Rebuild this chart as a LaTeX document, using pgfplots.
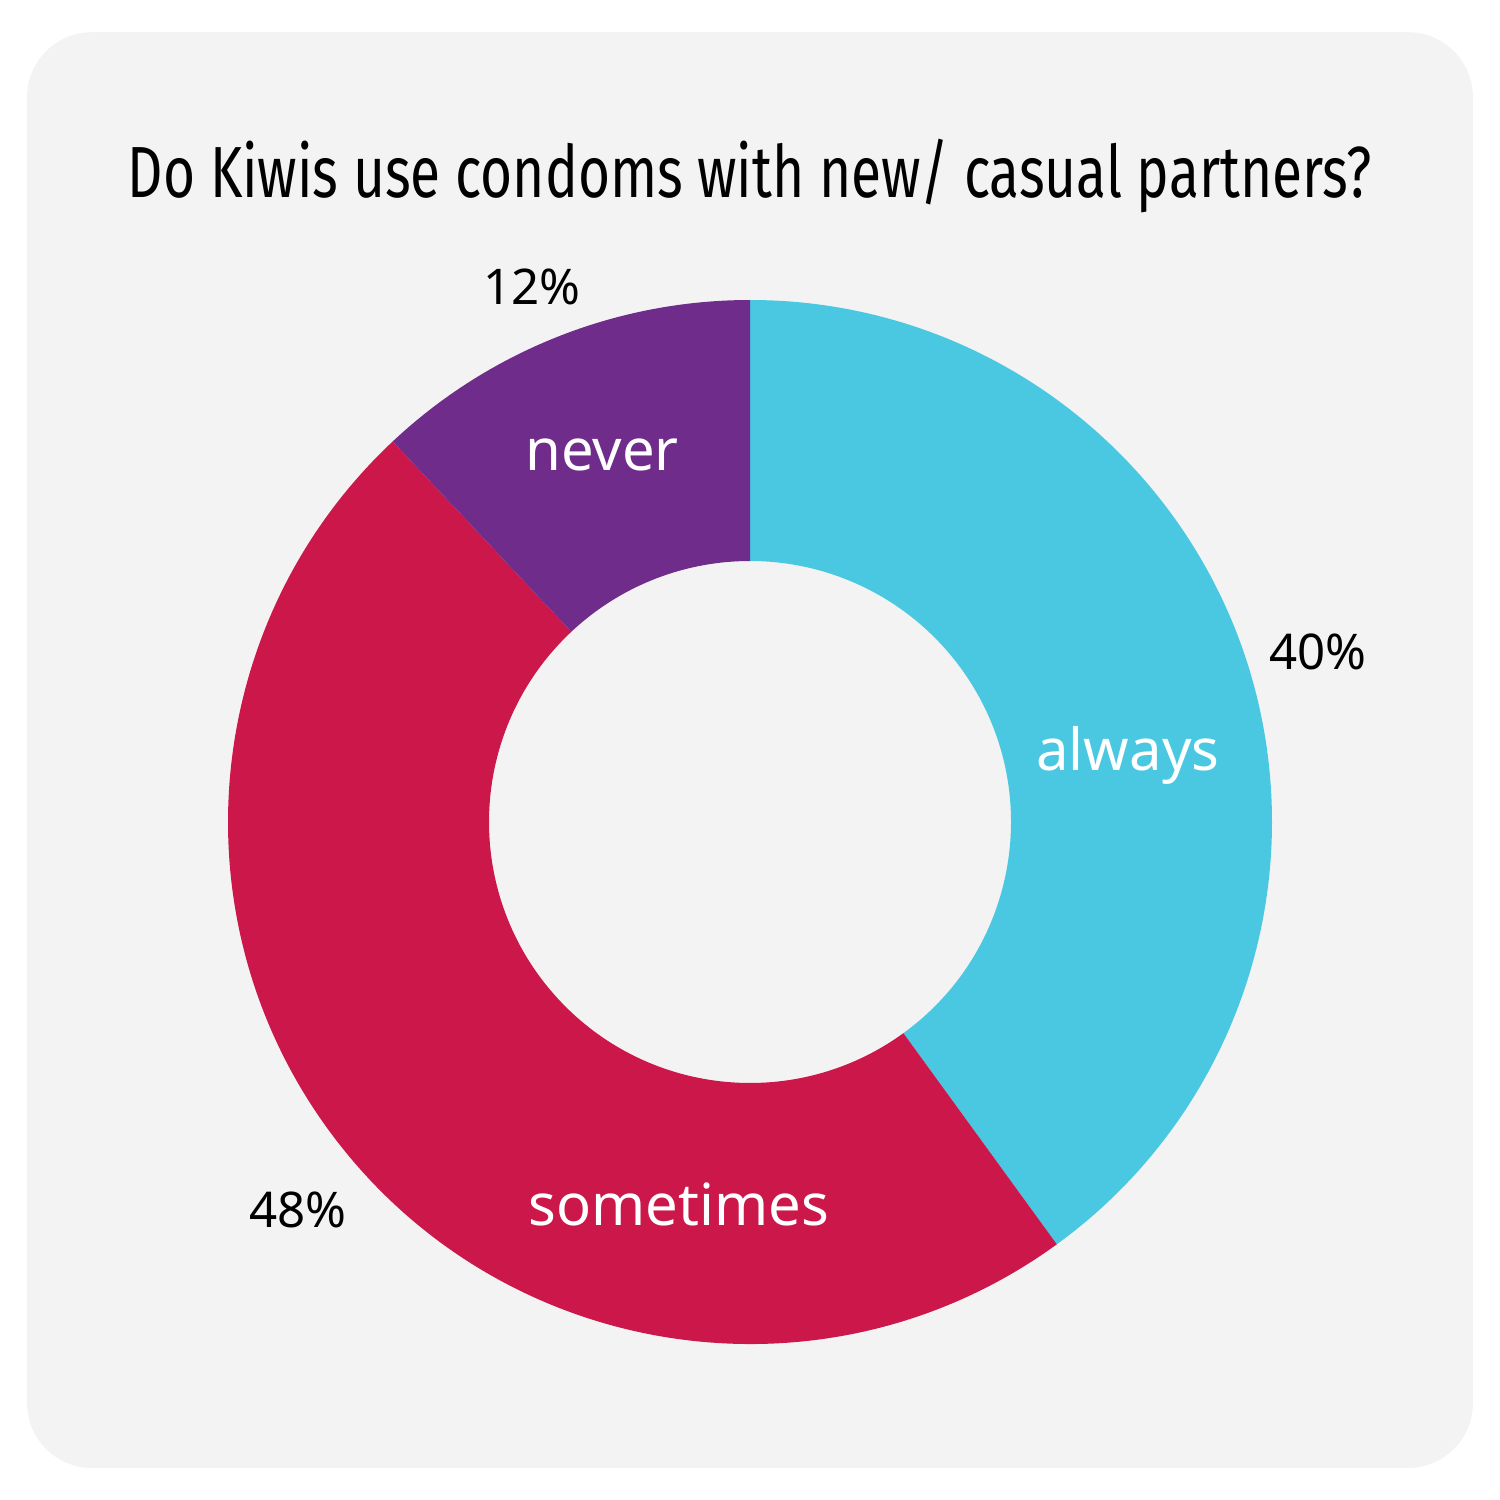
\documentclass[border=0pt]{standalone}
\usepackage{pgfplots}
\pgfplotsset{compat=1.18}
\usepackage{pgfplotstable}
\usepackage{fontspec}
\setmainfont{Noto Sans}
\newfontfamily\titlefont[FakeStretch=0.76]{Fira Sans}
\definecolor{cyanC}{HTML}{4BC8E1}
\definecolor{redC}{HTML}{CC174B}
\definecolor{purpC}{HTML}{6F2C8A}
\definecolor{bgC}{HTML}{F3F3F3}
\pgfplotstableread{
label value
always 40
sometimes 48
never 12
}\donutdata
\begin{document}
\begin{tikzpicture}
\begin{axis}[x=5.22cm,y=5.22cm,
  xmin=-1.43678, xmax=1.43678, ymin=-1.29885, ymax=1.57471,
  hide axis, clip=false, scale only axis]
\fill[white] (rel axis cs:0,0) rectangle (rel axis cs:1,1);
\fill[bgC, rounded corners=0.65cm] (axis cs:-1.385,-1.2375) rectangle (axis cs:1.385,1.513);
\gdef\cum{0}
\pgfplotstableforeachcolumnelement{value}\of\donutdata\as\v{%
  \pgfmathsetmacro\a{90-3.6*\cum}%
  \pgfmathsetmacro\b{90-3.6*(\cum+\v)}%
  \pgfmathsetmacro\ca{cos(\a)}\pgfmathsetmacro\sa{sin(\a)}%
  \pgfmathsetmacro\cb{0.5*cos(\b)}\pgfmathsetmacro\sb{0.5*sin(\b)}%
  \pgfmathsetmacro\newcum{\cum+\v}\xdef\cum{\newcum}%
  \edef\col{\ifcase\pgfplotstablerow cyanC\or redC\or purpC\fi}%
  \edef\tmp{\noexpand\fill[\col] (axis cs:\ca,\sa) arc[start angle=\a, end angle=\b, radius=5.22cm] -- (axis cs:\cb,\sb) arc[start angle=\b, end angle=\a, radius=2.61cm] -- cycle;}%
  \tmp
}
\node[anchor=base, font=\titlefont\fontsize{20.6}{24}\selectfont] at (axis cs:0,1.197) {Do Kiwis use condoms with new/ casual partners?};
\node[font=\fontsize{14}{16}\selectfont] at (axis cs:-0.418,1.025) {12\%};
\node[font=\fontsize{14}{16}\selectfont] at (axis cs:1.088,0.326) {40\%};
\node[font=\fontsize{14}{16}\selectfont] at (axis cs:-0.866,-0.743) {48\%};
\node[white, font=\fontsize{16.5}{18}\selectfont] at (axis cs:-0.2835,0.703) {never};
\node[white, font=\fontsize{16.5}{18}\selectfont] at (axis cs:0.724,0.128) {always};
\node[white, font=\fontsize{16.5}{18}\selectfont] at (axis cs:-0.136,-0.732) {sometimes};
\end{axis}
\end{tikzpicture}
\end{document}
